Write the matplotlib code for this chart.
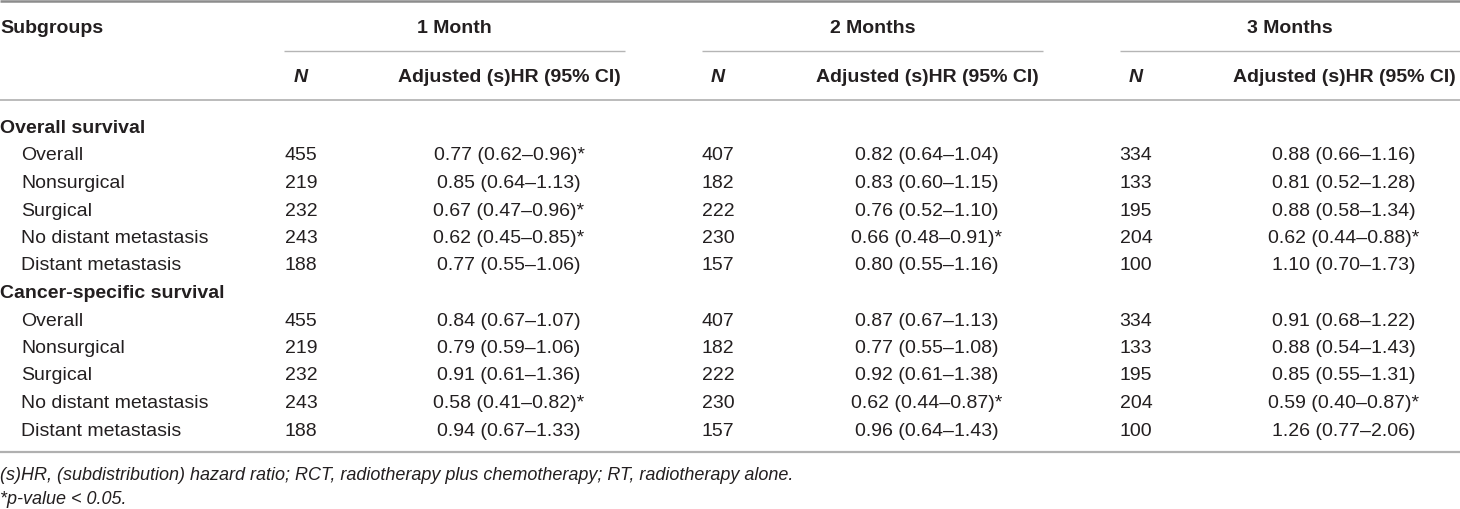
import matplotlib
matplotlib.use("Agg")
import matplotlib.pyplot as plt

plt.rcParams['font.family'] = ['Liberation Sans', 'DejaVu Sans']

# table content
months = ["1 Month", "2 Months", "3 Months"]
sections = ["Overall survival", "Cancer-specific survival"]
subgroups = ["Overall", "Nonsurgical", "Surgical", "No distant metastasis", "Distant metastasis"]

# N per month (rows: OS subgroups then CSS subgroups)
n_1m = [455, 219, 232, 243, 188, 455, 219, 232, 243, 188]
n_2m = [407, 182, 222, 230, 157, 407, 182, 222, 230, 157]
n_3m = [334, 133, 195, 204, 100, 334, 133, 195, 204, 100]

# adjusted (s)HR, lower and upper 95% CI
hr_1m = [0.77, 0.85, 0.67, 0.62, 0.77, 0.84, 0.79, 0.91, 0.58, 0.94]
lo_1m = [0.62, 0.64, 0.47, 0.45, 0.55, 0.67, 0.59, 0.61, 0.41, 0.67]
hi_1m = [0.96, 1.13, 0.96, 0.85, 1.06, 1.07, 1.06, 1.36, 0.82, 1.33]
sig_1m = [1, 0, 1, 1, 0, 0, 0, 0, 1, 0]

hr_2m = [0.82, 0.83, 0.76, 0.66, 0.80, 0.87, 0.77, 0.92, 0.62, 0.96]
lo_2m = [0.64, 0.60, 0.52, 0.48, 0.55, 0.67, 0.55, 0.61, 0.44, 0.64]
hi_2m = [1.04, 1.15, 1.10, 0.91, 1.16, 1.13, 1.08, 1.38, 0.87, 1.43]
sig_2m = [0, 0, 0, 1, 0, 0, 0, 0, 1, 0]

hr_3m = [0.88, 0.81, 0.88, 0.62, 1.10, 0.91, 0.88, 0.85, 0.59, 1.26]
lo_3m = [0.66, 0.52, 0.58, 0.44, 0.70, 0.68, 0.54, 0.55, 0.40, 0.77]
hi_3m = [1.16, 1.28, 1.34, 0.88, 1.73, 1.22, 1.43, 1.31, 0.87, 2.06]
sig_3m = [0, 0, 0, 1, 0, 0, 0, 0, 1, 0]

footnotes = ["(s)HR, (subdistribution) hazard ratio; RCT, radiotherapy plus chemotherapy; RT, radiotherapy alone.",
             "*p-value < 0.05."]

W, H = 1460, 509
fig = plt.figure(figsize=(W / 100, H / 100), dpi=100)
ax = fig.add_axes([0, 0, 1, 1])
ax.set_xlim(0, W)
ax.set_ylim(H, 0)
ax.axis('off')

txt = '#231f20'
fs = 14
off = 7  # baseline offset from the visual middle of the caps


def put(x, y, s, ha='left', weight='normal', style='normal', size=fs):
    ax.text(x, y + off * size / fs, s, ha=ha, va='baseline', fontsize=size,
            fontweight=weight, fontstyle=style, color=txt)


# rules
ax.plot([0, W], [1, 1], color='#8c8c8c', lw=1.8, solid_capstyle='butt')
ax.plot([0, W], [100, 100], color='#b5b5b5', lw=1.3, solid_capstyle='butt')
ax.plot([0, W], [452, 452], color='#b0b0b0', lw=1.6, solid_capstyle='butt')

group_x0 = [284, 702, 1120]
group_x1 = [625, 1043, 1460]
n_cx = [301, 718, 1136]
hr_cx = [509, 927, 1344]

put(0, 26, "Subgroups", weight='bold')
for k, m in enumerate(months):
    put((group_x0[k] + group_x1[k]) / 2, 26, m, ha='center', weight='bold')
    ax.plot([group_x0[k], group_x1[k]], [51, 51], color='#b5b5b5', lw=1.0, solid_capstyle='butt')
    put(n_cx[k], 75, "N", ha='center', weight='bold', style='italic')
    put(hr_cx[k], 75, "Adjusted (s)HR (95% CI)", ha='center', weight='bold')

ns = [n_1m, n_2m, n_3m]
hrs = [(hr_1m, lo_1m, hi_1m, sig_1m), (hr_2m, lo_2m, hi_2m, sig_2m), (hr_3m, lo_3m, hi_3m, sig_3m)]

row_y0 = 126
dy = 27.5
r = 0
for s_i, sec in enumerate(sections):
    put(0, row_y0 + r * dy, sec, weight='bold')
    r += 1
    for g_i, g in enumerate(subgroups):
        i = s_i * len(subgroups) + g_i
        y = row_y0 + r * dy
        put(21, y, g)
        for k in range(3):
            put(n_cx[k], y, str(ns[k][i]), ha='center')
            hr, lo, hi, sig = hrs[k]
            s = "{:.2f} ({:.2f}\u2013{:.2f})".format(hr[i], lo[i], hi[i])
            if sig[i]:
                s += "*"
            put(hr_cx[k], y, s, ha='center')
        r += 1

put(0, 473, footnotes[0], style='italic', size=13)
put(0, 498, footnotes[1], style='italic', size=13)

fig.savefig("out.png", dpi=100)
